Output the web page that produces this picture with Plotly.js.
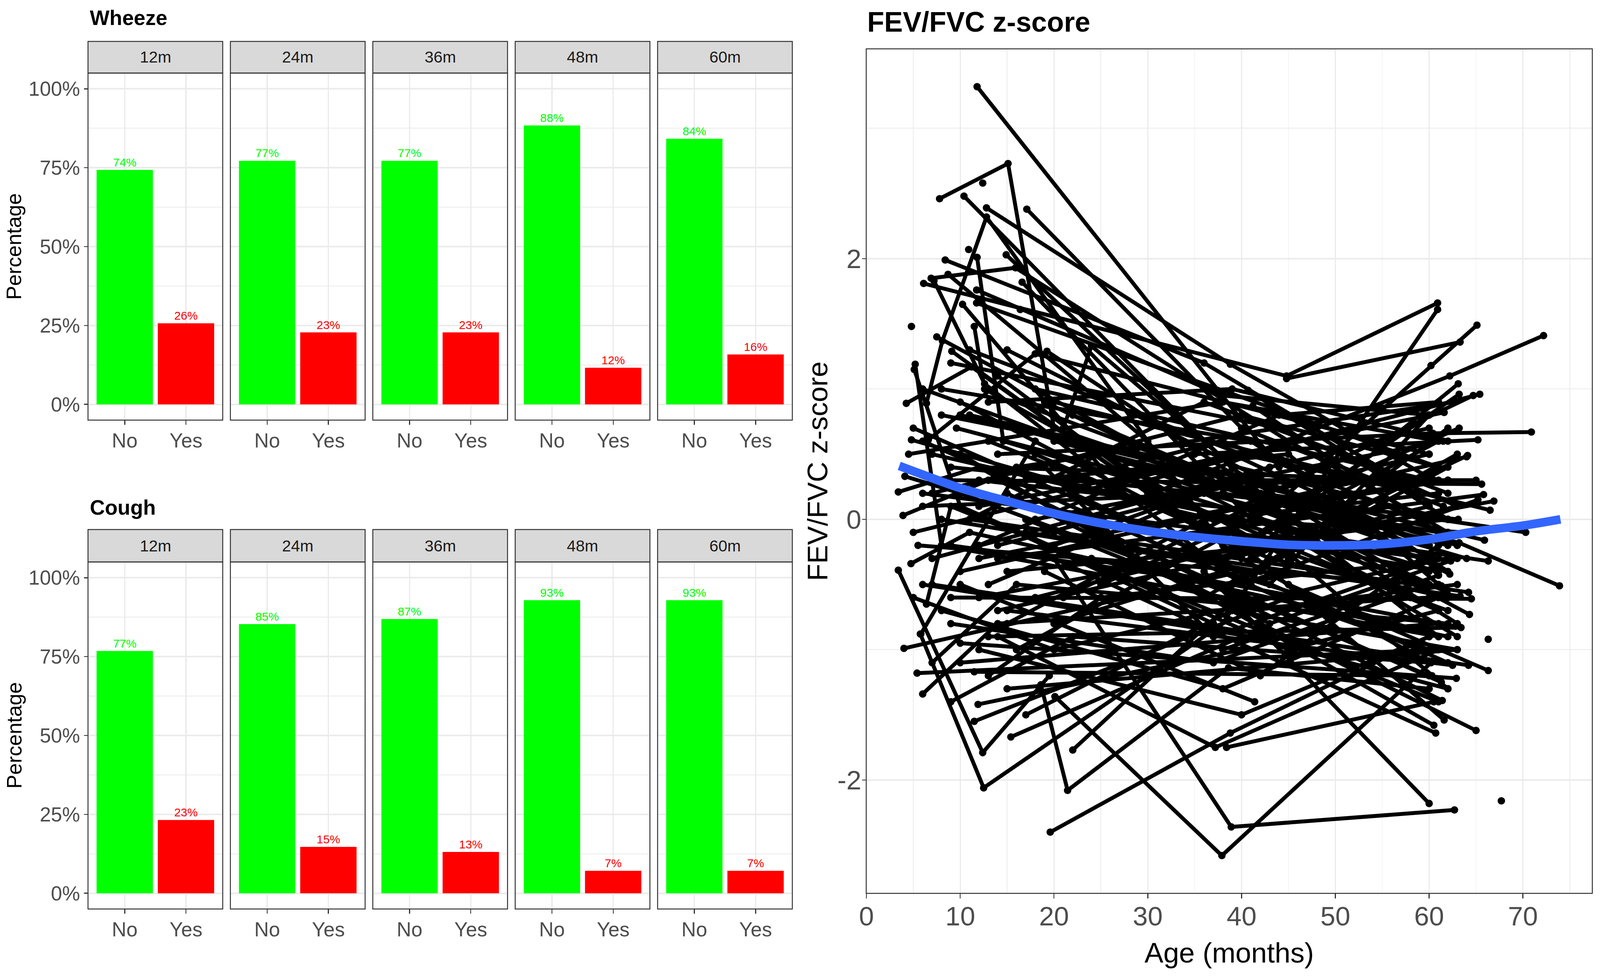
<!DOCTYPE html>
<html>
<head>
<meta charset="utf-8">
<script src="https://cdn.plot.ly/plotly-3.0.1.min.js"></script>
<style>html,body{margin:0;padding:0;background:#fff;overflow:hidden}#chart{position:absolute;left:0;top:0}</style>
</head>
<body>
<div id="chart"></div>
<script>
// ---------------- DATA ----------------
const timepoints = ['12m', '24m', '36m', '48m', '60m'];
const responses = ['No', 'Yes'];
const wheeze_no  = [74.3, 77.2, 77.2, 88.4, 84.2];
const wheeze_yes = [25.7, 22.8, 22.8, 11.6, 15.8];
const cough_no   = [76.8, 85.3, 86.9, 92.9, 92.9];
const cough_yes  = [23.2, 14.7, 13.1, 7.1, 7.1];

// FEV/FVC z-score trajectories: ages (months) and z-scores per subject
const age_by_subject = [
 [11.8,44],[7.8,15.1,20,61],[12.4],[10.4,39,61],[12.8,38.8,60.5],[17.1,40,61.5],[6.4,8.1,12.8,38],[10.9],
 [14.9,42],[11.8,14.6,60.8],[8.4,36,57],[6.1,44.8,60.9],[6.9,15.9,45,62],[7.2,12.6,40],[8.7,30],[16.6,41],
 [11.75,38,60],[11.75,61],[16.4],[10.25,25,61],[4.8],[11.5,12.6,45],[9.1,30,60],[21,24,39,62],
 [4.25,11.2,40],[5.2,8,61],[5.1,10,37],[4.8,20,60],[6.6,18,60],[9.6,44],[19.25,40,61],[44.8,63.3],
 [37,60.9],[45,60.2,65.1],[20,62.2,72.2],[40.7,62],[41.2,63],[14,60.4,70.9],[25,63.2],[30,65.4],
 [40,64.7],[38,63.2],[16,62.7],[42,63.1],[12,61.6],[10,64],[35,65.2],[18,61.5],
 [41,64.1],[8,65.6],[14,65.8],[40,65.2],[12,66.9],[20,66.5],[9,63.1],[20,63.2,73.9],
 [42,70.3],[10,65.9],[45,66.3],[6,62.3],[15,62.2],[38,61],[11,64.2],[9,64.5],
 [17,63.3],[40,64.3],[13,63.4],[24,62.8],[5.5,61.3],[19,61.9],[45,66.3],[7,64.2],
 [15,62.5],[10,62.9],[22,61.3],[39,61.4],[40,61.6],[42,65],[20,60.7],[12,60.5],
 [66.3],[67.7],[10,41.4],[20,38.9,62.7],[20.1,37.9,60.2],[19.6,38.8,60],[18.6,21.45,38.6,60],[5.75,12.5,37],
 [3.4,12.4,19.5],[36,60],[15.4,40],[22,41],[11.5,45],[11.9,40],[6,14,60],[4,40,62],
 [5.4,60.5],[3.4,12,61],[3.9,13],[4.1,10,40],[4.75,11,62],[6.4,9,61],[5.8,18],[11.5,60.3],
 [15,63],[7,37,61],[9,39,62],[11,42,60],[13,36,58],[15,43,63],[18,40,61],[21,38,59],
 [8,41,62],[5,37,60],[12,44,61],[16,39,62],[10,36,63],[14,40,60],[19,42,61],[6,38,61],
 [22,45,62],[9,37,60],[13,39,62],[17,41,63],[7,43,60],[20,38,61],[11,40,59],[15,44,62],
 [8,36,63],[12,62],[18,60],[10,61],[14,63],[6,60],[16,64],[14,37.2,61],[38.4,60.5],
 [5,20,61],[7,16,62],[9,22,60],[13,25,62],[8,38,61],[17,39,63],[12,40,60],[6,41,62],
 [10,45,61],[14,37,60],[18,43,62],[20,39,63],[7,40,61],[11,36,62],[16,42,60],[9,44,63],
 [13,38,61],[21,41,62],[5,39,60],[15,36,64],[8,42,62],[19,37,61],[6,44,60],[12,40,63],
 [17,45,61],[10,39,62],[14,41,65],[22,43,60],[4.5,38,61],[7.5,36,62]
];
const z_by_subject = [
 [3.32,0.4],[2.46,2.73,0.7,-0.3],[2.58],[2.48,0.39,-0.6],[2.39,1.19,0.3],[2.38,0.7,0.1],[0.89,1.37,2.32,-0.2],[2.07],
 [2.03,0.2],[2.01,0.6,-0.4],[1.99,1.2,0.3],[1.81,1.10,1.66],[1.85,1.93,0.6,-0.1],[1.83,1.04,-0.5],[1.88,0.6],[1.82,0.0],
 [1.76,0.95,0.8],[1.66,0.4],[1.61],[1.65,0.4,-0.7],[1.48],[1.48,1.0,-0.3],[1.29,0.2,-0.5],[0.7,1.33,0.41,0.0],
 [0.89,1.17,-0.3],[1.19,-0.2,-0.9],[1.15,0.1,-0.8],[0.61,0.3,-0.3],[0.61,1.27,0.5],[0.70,0.05],[1.29,0.3,-0.9],[1.08,1.36],
 [-0.9,1.61],[0.2,1.18,1.49],[-0.1,1.10,1.41],[0.99,0.0],[0.87,-0.2],[0.5,0.66,0.67],[-0.5,0.70],[0.3,0.96],
 [0.1,0.95],[-0.3,0.96],[0.4,0.90],[-0.2,1.04],[0.1,0.82],[-0.4,0.48],[0.5,0.61],[0.0,0.60],
 [-0.3,0.49],[0.3,0.27],[-0.3,0.19],[-0.5,0.15],[-0.6,0.14],[0.9,0.07],[0.4,0.0],[0.6,-0.18,-0.51],
 [0.2,-0.10],[0.8,-0.16],[-0.1,-0.32],[0.2,-0.32],[1.3,-0.42],[-1.0,-0.43],[0.0,-0.56],[-0.6,-0.61],
 [-0.1,-0.59],[0.2,-0.73],[-0.9,-0.83],[-0.3,-0.82],[-0.2,-0.51],[0.9,-0.56],[-0.5,-1.16],[-0.5,-1.12],
 [-0.7,-1.12],[-0.95,-1.22],[0.0,-1.25],[-0.6,-1.39],[-0.2,-1.54],[-0.8,-1.62],[-0.3,-1.64],[0.4,-1.58],
 [-0.92],[-2.16],[-0.5,-1.40],[-0.3,-2.36,-2.23],[-1.36,-2.58,-1.1],[-2.40,-1.64,-0.9],[-1.27,-2.08,-1.14,-1.3],[-0.88,-2.06,-0.85],
 [-0.39,-1.79,-1.2],[-0.4,-2.18],[-1.67,-0.9],[-1.77,-0.5],[-1.55,-0.6],[-1.42,-1.0],[-1.34,-0.8,-0.6],[-0.99,-0.4,-1.1],
 [-1.18,-1.0],[0.21,0.4,0.3],[0.03,0.3],[0.33,0.2,-0.6],[-0.34,-0.1,-0.9],[-0.65,0.1,-1.4],[-0.88,0.6],[-1.17,-1.2],
 [-1.3,-1.0],[0.5,0.0,0.2],[-0.2,-0.5,0.4],[0.8,0.3,-0.2],[-0.5,0.2,-0.6],[0.2,-0.8,-0.3],[-0.6,-0.2,0.6],[0.3,0.6,0.0],
 [1.0,0.6,-0.4],[0.7,-0.3,0.1],[-0.2,0.8,0.9],[-1.0,-0.1,-0.7],[0.5,-0.6,0.5],[1.1,-0.3,-1.1],[-0.4,-1.2,-0.2],[0.1,0.2,-0.1],
 [0.8,0.1,0.3],[-0.8,-1.1,-0.5],[0.9,1.0,0.6],[0.0,-0.7,-0.5],[-0.3,0.4,0.7],[-0.8,-0.4,-0.9],[1.3,0.5,0.2],[-0.4,-0.2,-1.3],
 [0.8,0.4,-0.2],[0.3,-0.1],[1.0,0.3],[-1.1,-0.8],[-0.7,0.1],[1.0,-0.4],[0.7,-0.3],[-0.9,-1.75,-1.0],[-1.75,-1.4],
 [-0.6,-1.0,-0.3],[-1.1,-0.5,-0.8],[-1.4,-0.9,-1.1],[-1.2,-0.6,-0.3],[-0.7,-1.3,-0.6],[-1.5,-0.7,-1.0],[-1.0,-1.5,-0.9],[-0.5,-0.9,-1.3],
 [0.1,-1.0,-0.7],[0.3,-0.5,-1.2],[0.5,-0.3,-0.6],[-0.2,0.3,-0.8],[0.2,0.8,0.4],[0.0,0.9,0.2],[0.9,0.2,0.5],[1.2,0.7,0.1],
 [0.6,-0.1,-0.4],[-0.6,0.1,0.3],[-0.1,0.5,-0.2],[-0.8,0.0,-0.1],[0.0,-0.4,0.7],[0.4,-0.9,-0.3],[0.6,-0.6,-1.0],[-0.3,0.1,-0.9],
 [0.3,0.5,-0.5],[0.9,-0.2,0.0],[-0.2,0.3,0.3],[0.2,-0.5,0.8],[0.5,0.9,0.6],[1.4,0.3,-0.2]
];

// smooth (loess) fit
const smooth_age = [3.5, 5, 10, 15, 20, 25, 30, 35, 40, 45, 50, 55, 60, 65, 70, 74];
const smooth_z   = [0.41, 0.37, 0.24, 0.14, 0.045, -0.03, -0.09, -0.135, -0.168, -0.195, -0.20, -0.19, -0.153, -0.092, -0.048, 0.0];

const age_ticks = [0, 10, 20, 30, 40, 50, 60, 70];
const y_ticks = [-2, 0, 2];
const y_tick_labels = ['-2', '0', '2'];
const pct_ticks = [0, 25, 50, 75, 100];

// ---------------- LAYOUT HELPERS ----------------
// Layout designed on a 5000 x 2500 canvas; positions are fractions, sizes scale with the viewport.
const W0 = 5000, H0 = 2500;
const W = window.innerWidth || W0, H = window.innerHeight || H0;
const sxv = W / W0, syv = H / H0;
const fs = Math.min(syv, sxv * 1.05);           // font scale
const ls = syv;                                 // stroke scale (mostly horizontal strokes)
const ms = (sxv + syv) / 2;                     // marker scale
const F = v => v * fs, L_ = v => v * ls, M = v => v * ms, T = v => v * Math.min(sxv, syv);
const chartDiv = document.getElementById('chart');
chartDiv.style.width = W + 'px'; chartDiv.style.height = H + 'px';

const FONT = 'Liberation Sans, Arial, Helvetica, sans-serif';
const GREEN = '#00FF00', RED = '#FF0000';
const GRID = '#EBEBEB', BORDER = '#333333', TICKTXT = '#4D4D4D';
const px = v => v / W0, py = v => 1 - v / H0;

const panelLeft0 = 275, panelW = 421, panelStep = 445;
const rows = [
  {title: 'Wheeze', titleY: 46, stripTop: 106, stripBot: 187, panelBot: 1075, no: wheeze_no, yes: wheeze_yes},
  {title: 'Cough',  titleY: 1298, stripTop: 1355, stripBot: 1438, panelBot: 2326, no: cough_no, yes: cough_yes}
];

const traces = [];
const layout = {
  width: W, height: H, margin: {l: 0, r: 0, t: 0, b: 0, pad: 0},
  paper_bgcolor: '#fff', plot_bgcolor: '#fff', showlegend: false,
  font: {family: FONT, color: '#000'},
  shapes: [], annotations: []
};

let n = 0;
rows.forEach((row) => {
  layout.annotations.push({text: '<b>' + row.title + '</b>', x: px(278), y: py(row.titleY), xref: 'paper', yref: 'paper',
    xanchor: 'left', yanchor: 'middle', showarrow: false, font: {size: F(62), color: '#000', family: FONT}});
  layout.annotations.push({text: 'Percentage', x: px(44), y: py((row.stripBot + row.panelBot) / 2), xref: 'paper', yref: 'paper',
    xanchor: 'center', yanchor: 'middle', textangle: -90, showarrow: false, font: {size: F(62), color: '#000', family: FONT}});
  timepoints.forEach((tp, i) => {
    n++;
    const xa = n === 1 ? 'x' : 'x' + n, ya = n === 1 ? 'y' : 'y' + n;
    const Lp = panelLeft0 + i * panelStep, Rp = Lp + panelW;
    const vals = [row.no[i], row.yes[i]];
    traces.push({
      type: 'bar', x: responses, y: vals, xaxis: xa, yaxis: ya, width: 0.92,
      marker: {color: [GREEN, RED], line: {width: 0}},
      text: vals.map(v => Math.round(v) + '%'), textposition: 'outside', cliponaxis: false,
      textfont: {size: F(35), color: [GREEN, RED], family: FONT}, hoverinfo: 'skip'
    });
    layout['xaxis' + (n === 1 ? '' : n)] = {
      domain: [px(Lp), px(Rp)], anchor: ya, type: 'category', range: [-0.6, 1.6],
      showgrid: true, gridcolor: GRID, gridwidth: T(4), zeroline: false, showline: false,
      ticks: 'outside', ticklen: L_(11), tickwidth: T(3), tickcolor: BORDER, ticklabelstandoff: -4,
      tickfont: {size: F(60), color: TICKTXT, family: FONT}, fixedrange: true
    };
    layout['yaxis' + (n === 1 ? '' : n)] = {
      domain: [py(row.panelBot), py(row.stripBot)], anchor: xa, range: [-5, 105],
      tickvals: pct_ticks, ticktext: pct_ticks.map(v => v + '%'),
      showticklabels: i === 0, ticks: i === 0 ? 'outside' : '', ticklen: T(11), tickwidth: T(3), tickcolor: BORDER,
      tickfont: {size: F(60), color: TICKTXT, family: FONT},
      showgrid: true, gridcolor: GRID, gridwidth: L_(4), zeroline: false, showline: false,
      minor: {tickvals: [12.5, 37.5, 62.5, 87.5], showgrid: true, gridcolor: GRID, gridwidth: L_(2), ticks: ''},
      fixedrange: true
    };
    layout.shapes.push({type: 'rect', xref: 'paper', yref: 'paper', x0: px(Lp), x1: px(Rp), y0: py(row.stripBot), y1: py(row.stripTop),
      fillcolor: '#D9D9D9', line: {color: BORDER, width: T(3)}, layer: 'above'});
    layout.annotations.push({text: tp, x: px((Lp + Rp) / 2), y: py((row.stripTop + row.stripBot) / 2), xref: 'paper', yref: 'paper',
      xanchor: 'center', yanchor: 'middle', showarrow: false, font: {size: F(48), color: '#1A1A1A', family: FONT}});
    layout.shapes.push({type: 'rect', xref: 'paper', yref: 'paper', x0: px(Lp), x1: px(Rp), y0: py(row.panelBot), y1: py(row.stripBot),
      fillcolor: 'rgba(0,0,0,0)', line: {color: BORDER, width: T(3)}, layer: 'above'});
  });
});

// ---------------- SPAGHETTI PLOT ----------------
const sx = [], sy = [];
age_by_subject.forEach((ages, i) => {
  const pts = ages.map((a, j) => [a, z_by_subject[i][j]]).sort((p, q) => p[0] - q[0]);
  pts.forEach(p => { sx.push(p[0]); sy.push(p[1]); });
  sx.push(null); sy.push(null);
});
traces.push({type: 'scatter', mode: 'lines+markers', x: sx, y: sy, xaxis: 'x11', yaxis: 'y11', connectgaps: false,
  line: {color: '#000', width: L_(10)}, marker: {color: '#000', size: M(21)}, hoverinfo: 'skip'});
traces.push({type: 'scatter', mode: 'lines', x: smooth_age, y: smooth_z, xaxis: 'x11', yaxis: 'y11',
  line: {color: '#3366FF', width: L_(22), shape: 'spline'}, hoverinfo: 'skip'});

const sL = 2707, sR = 4976, sT = 125, sB = 2286;
layout.xaxis11 = {
  domain: [px(sL), px(sR)], anchor: 'y11', range: [-0.02, 77.4],
  tickvals: age_ticks, showgrid: true, gridcolor: GRID, gridwidth: T(4),
  minor: {tickvals: [5, 15, 25, 35, 45, 55, 65, 75], showgrid: true, gridcolor: GRID, gridwidth: T(2), ticks: ''},
  zeroline: false, showline: false, ticks: 'outside', ticklen: L_(12), tickwidth: T(3), tickcolor: BORDER, ticklabelstandoff: -14,
  tickfont: {size: F(80), color: TICKTXT, family: FONT}, fixedrange: true
};
layout.yaxis11 = {
  domain: [py(sB), py(sT)], anchor: 'x11', range: [-2.87, 3.61],
  tickvals: y_ticks, ticktext: y_tick_labels, showgrid: true, gridcolor: GRID, gridwidth: L_(4),
  minor: {tickvals: [-1, 1, 3], showgrid: true, gridcolor: GRID, gridwidth: L_(2), ticks: ''},
  zeroline: false, showline: false, ticks: 'outside', ticklen: T(12), tickwidth: T(3), tickcolor: BORDER, ticklabelstandoff: -12,
  tickfont: {size: F(80), color: TICKTXT, family: FONT}, fixedrange: true
};
layout.shapes.push({type: 'rect', xref: 'paper', yref: 'paper', x0: px(sL), x1: px(sR), y0: py(sB), y1: py(sT),
  fillcolor: 'rgba(0,0,0,0)', line: {color: BORDER, width: T(3)}, layer: 'above'});
layout.annotations.push({text: '<b>FEV/FVC z-score</b>', x: px(sL), y: py(56), xref: 'paper', yref: 'paper',
  xanchor: 'left', yanchor: 'middle', showarrow: false, font: {size: F(83), color: '#000', family: FONT}});
layout.annotations.push({text: 'Age (months)', x: px((sL + sR) / 2), y: py(2438), xref: 'paper', yref: 'paper',
  xanchor: 'center', yanchor: 'middle', showarrow: false, font: {size: F(84), color: '#000', family: FONT}});
layout.annotations.push({text: 'FEV/FVC z-score', x: px(2554), y: py((sT + sB) / 2), xref: 'paper', yref: 'paper',
  xanchor: 'center', yanchor: 'middle', textangle: -90, showarrow: false, font: {size: F(84), color: '#000', family: FONT}});

Plotly.newPlot('chart', traces, layout, {displayModeBar: false, staticPlot: true});
</script>
</body>
</html>
